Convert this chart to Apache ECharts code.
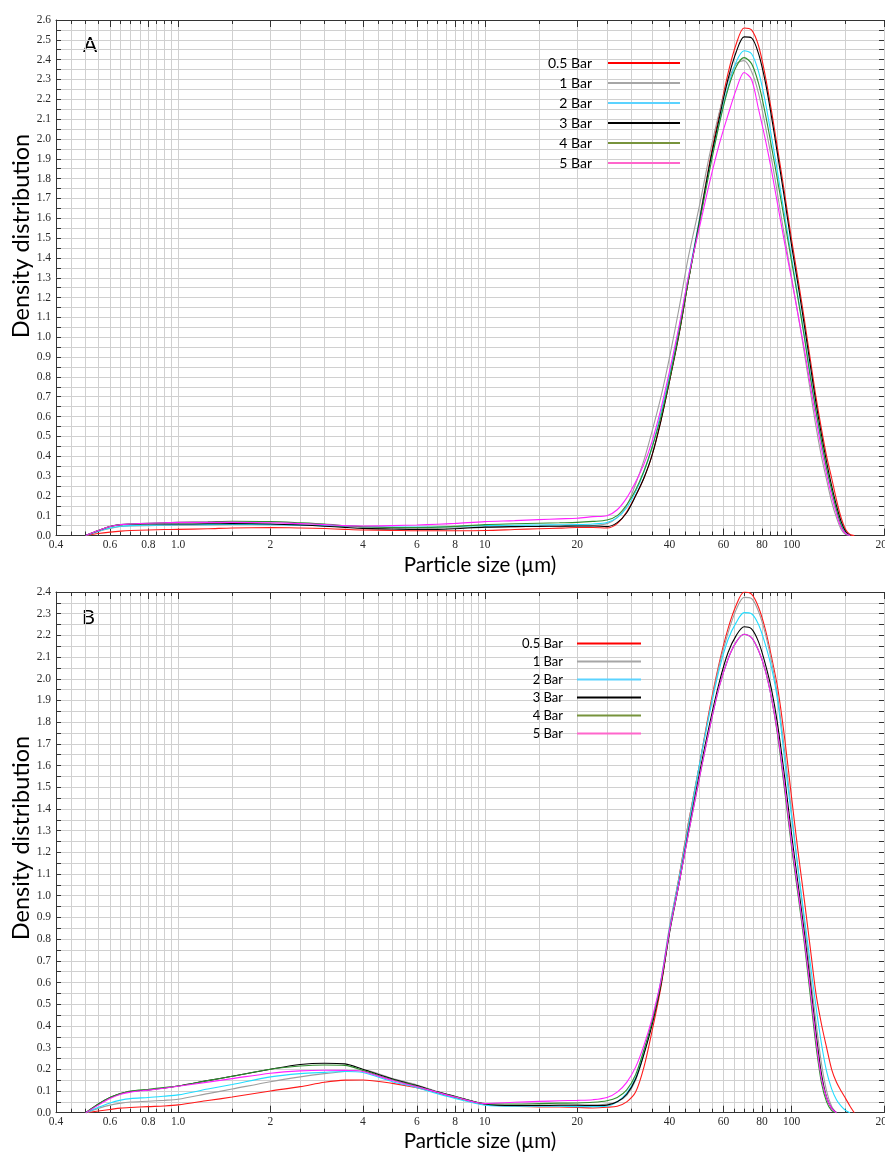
<!DOCTYPE html>
<html>
<head>
<meta charset="utf-8">
<script src="https://cdn.jsdelivr.net/npm/echarts@6/dist/echarts.min.js"></script>
<style>
  html, body { margin: 0; padding: 0; background: #ffffff; }
  #chart { width: 885px; height: 1155px; }
</style>
</head>
<body>
<div id="chart"></div>
<script>
// Particle sizes (µm) at which the density distributions are sampled
const sizeUm = [0.5, 0.55, 0.6, 0.65, 0.7, 0.8, 0.9, 1.0, 1.25, 1.5, 2, 2.5, 3, 3.5, 4, 5, 6, 7, 8, 10,
  12.5, 15, 17.5, 20, 22.5, 25, 27, 29, 31, 33, 35, 37.5, 40, 43, 46, 50, 54, 58, 62, 66,
  70, 74, 78, 82, 86, 90, 95, 100, 105, 110, 115, 120, 125, 130, 135, 140, 145, 150, 155, 160];

const pressures = ['0.5 Bar', '1 Bar', '2 Bar', '3 Bar', '4 Bar', '5 Bar'];

// Panel A
const densA_05 = [0, 0.01, 0.017, 0.022, 0.025, 0.028, 0.03, 0.031, 0.034, 0.038, 0.04, 0.038, 0.035, 0.031, 0.028, 0.026, 0.024, 0.024, 0.024, 0.025,
  0.03, 0.034, 0.037, 0.04, 0.04, 0.038, 0.06, 0.12, 0.2, 0.29, 0.40, 0.58, 0.78, 1.02, 1.28, 1.59, 1.88, 2.12, 2.33, 2.48,
  2.56, 2.55, 2.47, 2.32, 2.14, 1.95, 1.72, 1.49, 1.29, 1.09, 0.89, 0.70, 0.54, 0.40, 0.29, 0.18, 0.09, 0.03, 0.005, 0];
const densA_1 = [0, 0.02, 0.035, 0.045, 0.048, 0.05, 0.051, 0.052, 0.054, 0.056, 0.057, 0.054, 0.05, 0.046, 0.043, 0.04, 0.038, 0.038, 0.039, 0.042,
  0.044, 0.046, 0.047, 0.048, 0.05, 0.06, 0.09, 0.15, 0.26, 0.38, 0.52, 0.70, 0.90, 1.15, 1.40, 1.66, 1.92, 2.13, 2.29, 2.38,
  2.395, 2.34, 2.23, 2.07, 1.90, 1.72, 1.50, 1.30, 1.11, 0.92, 0.73, 0.55, 0.40, 0.28, 0.17, 0.09, 0.03, 0.005, 0, null];
const densA_2 = [0, 0.022, 0.038, 0.047, 0.05, 0.052, 0.053, 0.054, 0.055, 0.056, 0.055, 0.052, 0.05, 0.047, 0.045, 0.043, 0.042, 0.043, 0.045, 0.05,
  0.052, 0.053, 0.054, 0.055, 0.058, 0.066, 0.09, 0.14, 0.22, 0.32, 0.44, 0.62, 0.81, 1.05, 1.30, 1.59, 1.86, 2.08, 2.26, 2.39,
  2.445, 2.43, 2.34, 2.19, 2.01, 1.83, 1.61, 1.40, 1.20, 1.01, 0.81, 0.63, 0.47, 0.34, 0.23, 0.13, 0.06, 0.015, 0, null];
const densA_3 = [0, 0.025, 0.045, 0.055, 0.057, 0.058, 0.058, 0.058, 0.059, 0.06, 0.058, 0.053, 0.047, 0.041, 0.036, 0.033, 0.031, 0.031, 0.034, 0.042,
  0.045, 0.046, 0.047, 0.048, 0.048, 0.045, 0.065, 0.115, 0.2, 0.29, 0.40, 0.58, 0.78, 1.02, 1.28, 1.58, 1.87, 2.10, 2.30, 2.44,
  2.515, 2.51, 2.43, 2.29, 2.11, 1.92, 1.69, 1.46, 1.26, 1.06, 0.86, 0.67, 0.51, 0.37, 0.25, 0.15, 0.07, 0.02, 0, null];
const densA_4 = [0, 0.025, 0.045, 0.055, 0.058, 0.062, 0.064, 0.066, 0.069, 0.072, 0.07, 0.064, 0.058, 0.05, 0.044, 0.04, 0.04, 0.042, 0.046, 0.055,
  0.059, 0.062, 0.064, 0.066, 0.071, 0.078, 0.10, 0.155, 0.23, 0.325, 0.44, 0.60, 0.79, 1.03, 1.28, 1.57, 1.84, 2.07, 2.25, 2.365,
  2.41, 2.38, 2.28, 2.13, 1.96, 1.79, 1.58, 1.38, 1.19, 1.00, 0.80, 0.63, 0.48, 0.34, 0.23, 0.13, 0.05, 0.01, 0, null];
const densA_5 = [0, 0.025, 0.045, 0.055, 0.058, 0.062, 0.064, 0.066, 0.066, 0.066, 0.064, 0.06, 0.055, 0.05, 0.048, 0.05, 0.053, 0.057, 0.061, 0.07,
  0.075, 0.08, 0.084, 0.087, 0.095, 0.10, 0.13, 0.19, 0.27, 0.36, 0.47, 0.64, 0.83, 1.06, 1.30, 1.55, 1.78, 1.97, 2.12, 2.25,
  2.335, 2.30, 2.15, 2.00, 1.84, 1.67, 1.47, 1.29, 1.11, 0.94, 0.76, 0.59, 0.44, 0.31, 0.20, 0.11, 0.04, 0.01, 0, null];

// Panel B
const densB_05 = [0, 0.008, 0.015, 0.021, 0.024, 0.028, 0.031, 0.036, 0.056, 0.072, 0.10, 0.12, 0.14, 0.15, 0.151, 0.135, 0.115, 0.092, 0.07, 0.038,
  0.03, 0.027, 0.026, 0.024, 0.022, 0.025, 0.03, 0.05, 0.095, 0.21, 0.37, 0.58, 0.84, 1.09, 1.33, 1.60, 1.86, 2.07, 2.23, 2.34,
  2.40, 2.39, 2.33, 2.23, 2.10, 1.96, 1.72, 1.45, 1.20, 0.98, 0.76, 0.55, 0.41, 0.30, 0.20, 0.14, 0.10, 0.065, 0.03, 0];
const densB_1 = [0, 0.02, 0.035, 0.044, 0.049, 0.053, 0.057, 0.062, 0.088, 0.109, 0.143, 0.165, 0.18, 0.19, 0.197, 0.158, 0.128, 0.098, 0.076, 0.04,
  0.035, 0.035, 0.035, 0.036, 0.036, 0.04, 0.05, 0.08, 0.15, 0.27, 0.41, 0.61, 0.86, 1.09, 1.33, 1.60, 1.85, 2.06, 2.21, 2.32,
  2.375, 2.37, 2.31, 2.21, 2.08, 1.92, 1.66, 1.38, 1.12, 0.88, 0.64, 0.42, 0.23, 0.10, 0.03, 0, null, null, null, null];
const densB_2 = [0, 0.025, 0.045, 0.058, 0.065, 0.07, 0.076, 0.082, 0.109, 0.13, 0.165, 0.18, 0.186, 0.19, 0.185, 0.143, 0.115, 0.088, 0.066, 0.035,
  0.03, 0.03, 0.03, 0.028, 0.028, 0.03, 0.05, 0.09, 0.16, 0.28, 0.41, 0.61, 0.85, 1.08, 1.31, 1.60, 1.84, 2.04, 2.18, 2.26,
  2.305, 2.30, 2.25, 2.16, 2.05, 1.90, 1.62, 1.36, 1.12, 0.90, 0.69, 0.49, 0.32, 0.19, 0.11, 0.06, 0.03, 0.01, 0, null];
const densB_3 = [0, 0.04, 0.07, 0.088, 0.098, 0.105, 0.114, 0.123, 0.148, 0.168, 0.20, 0.222, 0.228, 0.225, 0.20, 0.155, 0.125, 0.096, 0.075, 0.04,
  0.033, 0.033, 0.034, 0.034, 0.033, 0.035, 0.05, 0.085, 0.155, 0.27, 0.40, 0.59, 0.83, 1.06, 1.29, 1.56, 1.79, 1.98, 2.12, 2.20,
  2.24, 2.23, 2.17, 2.07, 1.95, 1.79, 1.54, 1.28, 1.05, 0.83, 0.60, 0.37, 0.18, 0.07, 0.02, 0, null, null, null, null];
const densB_4 = [0, 0.04, 0.07, 0.088, 0.10, 0.108, 0.116, 0.123, 0.148, 0.168, 0.20, 0.215, 0.22, 0.218, 0.195, 0.152, 0.122, 0.095, 0.073, 0.042,
  0.04, 0.042, 0.044, 0.045, 0.048, 0.055, 0.07, 0.105, 0.175, 0.29, 0.415, 0.60, 0.84, 1.06, 1.28, 1.54, 1.77, 1.96, 2.09, 2.17,
  2.205, 2.19, 2.13, 2.04, 1.91, 1.74, 1.48, 1.22, 1.00, 0.78, 0.54, 0.31, 0.14, 0.05, 0.01, 0, null, null, null, null];
const densB_5 = [0, 0.035, 0.065, 0.085, 0.095, 0.104, 0.113, 0.122, 0.141, 0.157, 0.182, 0.193, 0.196, 0.195, 0.19, 0.148, 0.12, 0.094, 0.072, 0.042,
  0.048, 0.052, 0.055, 0.057, 0.06, 0.07, 0.095, 0.14, 0.21, 0.31, 0.43, 0.61, 0.84, 1.06, 1.28, 1.54, 1.77, 1.96, 2.09, 2.17,
  2.205, 2.19, 2.13, 2.04, 1.91, 1.75, 1.50, 1.24, 1.02, 0.80, 0.57, 0.34, 0.16, 0.07, 0.02, 0, null, null, null, null];

// Size-axis labels and the full set of log grid positions
const xLabelValues = [0.4, 0.6, 0.8, 1, 2, 4, 6, 8, 10, 20, 40, 60, 80, 100, 200];
const xGridValues = [0.4, 0.45, 0.5, 0.55, 0.6, 0.65, 0.7, 0.75, 0.8, 0.85, 0.9, 0.95, 1,
  1.5, 2, 2.5, 3, 3.5, 4, 4.5, 5, 5.5, 6, 6.5, 7, 7.5, 8, 8.5, 9, 9.5, 10,
  15, 20, 25, 30, 35, 40, 45, 50, 55, 60, 65, 70, 75, 80, 85, 90, 95, 100, 150, 200];

const lineColors = ['#ff1a1a', '#9e9e9e', '#22dcff', '#000000', '#2f8f2f', '#ff22ff'];
const legendColors = ['#ff0000', '#a6a6a6', '#5bd3ff', '#000000', '#77933c', '#ff66cc'];

const AXIS = '#333333';
const GRID = '#d0d0d0';
const TICK_FONT = { fontFamily: 'Liberation Serif', fontSize: 11.5, color: '#2a2a2a' };
const TITLE_FONT = 'Lato';

const panels = [
  { top: 20, height: 515.5, yMax: 2.6, data: [densA_05, densA_1, densA_2, densA_3, densA_4, densA_5] },
  { top: 592, height: 520.7, yMax: 2.4, data: [densB_05, densB_1, densB_2, densB_3, densB_4, densB_5] }
];

function toPoints(values) {
  const pts = [];
  values.forEach((v, i) => { if (v !== null) pts.push([sizeUm[i], v]); });
  return pts;
}

function sizeAxes(gridIndex) {
  const base = {
    type: 'log', logBase: 10, min: 0.4, max: 200, gridIndex,
    axisLine: { show: true, onZero: false, lineStyle: { color: AXIS, width: 1 } },
    axisLabel: { show: false },
    axisTick: { show: false },
    splitLine: { show: false }
  };
  const tickStyle = { color: AXIS, width: 1 };
  return [
    Object.assign({}, base, {
      position: 'bottom',
      axisLabel: Object.assign({
        show: true, margin: 3, customValues: xLabelValues,
        formatter: v => (v === 1 ? '1.0' : String(v))
      }, TICK_FONT),
      axisTick: { show: true, inside: true, length: 4, customValues: xGridValues, lineStyle: tickStyle },
      splitLine: { show: true, lineStyle: { color: GRID, width: 1 } }
    }),
    Object.assign({}, base, {
      position: 'bottom',
      axisLine: { show: false, onZero: false },
      axisTick: { show: true, inside: true, length: 7, customValues: xLabelValues, lineStyle: tickStyle }
    }),
    Object.assign({}, base, {
      position: 'top',
      axisTick: { show: true, inside: true, length: 4, customValues: xGridValues, lineStyle: tickStyle }
    }),
    Object.assign({}, base, {
      position: 'top',
      axisLine: { show: false, onZero: false },
      axisTick: { show: true, inside: true, length: 7, customValues: xLabelValues, lineStyle: tickStyle }
    })
  ];
}

function densityAxes(gridIndex, yMax) {
  const tickStyle = { color: AXIS, width: 1 };
  return [
    {
      type: 'value', gridIndex, position: 'left', min: 0, max: yMax, interval: 0.1,
      axisLine: { show: true, onZero: false, lineStyle: { color: AXIS, width: 1 } },
      axisTick: { show: true, inside: true, length: 5, lineStyle: tickStyle },
      minorTick: { show: true, splitNumber: 2, length: 5, lineStyle: tickStyle },
      splitLine: { show: true, lineStyle: { color: GRID, width: 1 } },
      minorSplitLine: { show: true, lineStyle: { color: GRID, width: 1 } },
      axisLabel: Object.assign({ margin: 5, formatter: v => v.toFixed(1) }, TICK_FONT)
    },
    {
      type: 'value', gridIndex, position: 'right', min: 0, max: yMax, interval: 0.1,
      axisLine: { show: false, onZero: false },
      axisTick: { show: true, inside: true, length: 5, lineStyle: tickStyle },
      minorTick: { show: true, splitNumber: 2, length: 5, lineStyle: tickStyle },
      splitLine: { show: false },
      axisLabel: { show: false }
    }
  ];
}

const grid = [];
const xAxis = [];
const yAxis = [];
const series = [];
panels.forEach((p, gi) => {
  grid.push({ left: 56, right: 1, top: p.top, height: p.height, containLabel: false, outerBoundsMode: 'none' });
  const xIndex = xAxis.length;
  const yIndex = yAxis.length;
  xAxis.push(...sizeAxes(gi));
  yAxis.push(...densityAxes(gi, p.yMax));
  p.data.forEach((vals, si) => {
    series.push({
      name: pressures[si], type: 'line', xAxisIndex: xIndex, yAxisIndex: yIndex,
      data: toPoints(vals), symbol: 'none', showSymbol: false,
      smooth: 0.3,
      lineStyle: { color: lineColors[si], width: 1.1 },
      itemStyle: { color: lineColors[si] },
      silent: true, animation: false
    });
  });
});

function legendFor(right, top, itemWidth, fontSize, padRight, itemGap) {
  return {
    orient: 'vertical', align: 'right', right, top, itemWidth, itemHeight: 2, itemGap,
    icon: 'rect', selectedMode: false,
    data: pressures.map((n, i) => ({
      name: n,
      itemStyle: { color: legendColors[i], borderWidth: 0 }
    })),
    textStyle: { fontFamily: TITLE_FONT, fontSize, color: '#000', padding: [0, padRight, 0, 0] }
  };
}

const titleStyle = { fontFamily: TITLE_FONT, fill: '#000' };

const option = {
  backgroundColor: '#ffffff',
  animation: false,
  grid, xAxis, yAxis, series,
  legend: [
    legendFor(200, 51, 72, 14, 11, 6),
    legendFor(239, 632, 64, 13, 9, 5)
  ],
  graphic: [
    { type: 'text', left: 83, top: 35, style: { text: 'A', font: '21px Lato', fill: '#000' } },
    { type: 'text', left: 82, top: 608, style: { text: 'B', font: '20px Lato', fill: '#000' } },
    { type: 'text', x: 21, y: 236, rotation: Math.PI / 2,
      style: Object.assign({ text: 'Density distribution', align: 'center', verticalAlign: 'middle', fontSize: 23.5 }, titleStyle) },
    { type: 'text', x: 21, y: 838, rotation: Math.PI / 2,
      style: Object.assign({ text: 'Density distribution', align: 'center', verticalAlign: 'middle', fontSize: 23.5 }, titleStyle) },
    { type: 'text', x: 480, y: 565,
      style: Object.assign({ text: 'Particle size (µm)', align: 'center', verticalAlign: 'middle', fontSize: 20.5 }, titleStyle) },
    { type: 'text', x: 480, y: 1141,
      style: Object.assign({ text: 'Particle size (µm)', align: 'center', verticalAlign: 'middle', fontSize: 20.5 }, titleStyle) }
  ]
};

const chart = echarts.init(document.getElementById('chart'), null, { renderer: 'canvas' });
chart.setOption(option);
</script>
</body>
</html>
